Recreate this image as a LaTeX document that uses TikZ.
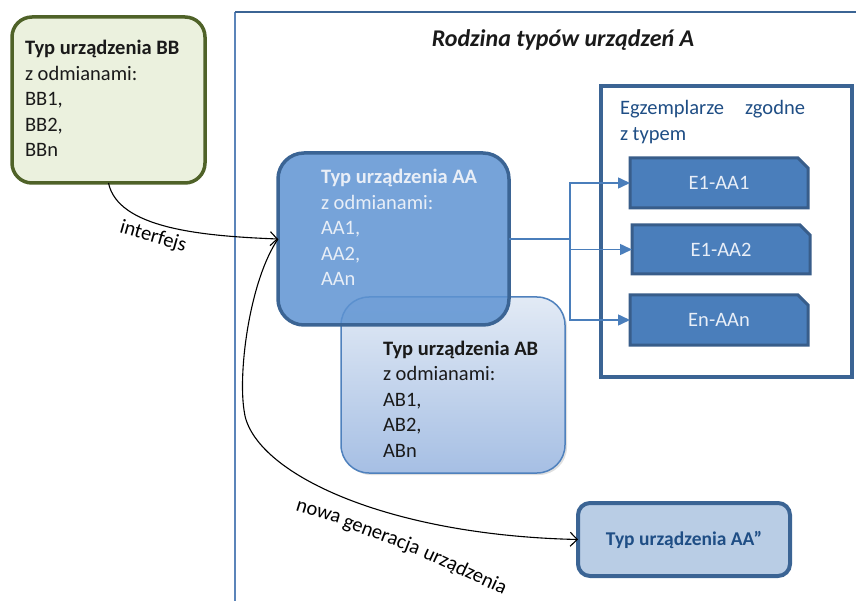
\documentclass[tikz,border=0pt]{standalone}
\usepackage{fontspec}
\setmainfont{Carlito}
\usetikzlibrary{arrows.meta,shadows,shapes.misc}

\definecolor{bbfill}{HTML}{EBF1DE}
\definecolor{bbline}{HTML}{4F6228}
\definecolor{aafill}{HTML}{5E93D2}
\definecolor{aaline}{HTML}{3B6494}
\definecolor{abline}{HTML}{4F81BD}
\definecolor{abtop}{HTML}{E2EAF5}
\definecolor{abbot}{HTML}{A6BFE4}
\definecolor{efill}{HTML}{4A7EBB}
\definecolor{eline}{HTML}{385D8A}
\definecolor{etext}{HTML}{E8EEF7}
\definecolor{dtext}{HTML}{1F4E85}
\definecolor{ppfill}{HTML}{B9CDE5}
\definecolor{frameleft}{HTML}{5B84B9}
\definecolor{darktext}{HTML}{1A1A1A}

\begin{document}
\begin{tikzpicture}[x=1pt,y=-1pt,
  every node/.style={font=\fontsize{20.5}{25.5}\selectfont, inner sep=0pt, outer sep=0pt},
  txt/.style={anchor=north west, align=left},
  ebox/.style={chamfered rectangle, chamfered rectangle corners=north east,
    chamfered rectangle xsep=5pt, chamfered rectangle ysep=5pt,
    minimum width=178pt, minimum height=50pt, fill=efill, draw=eline,
    line width=3pt, text=etext},
  conn/.style={draw=efill, line width=1.5pt},
  curve/.style={draw=black, line width=1.1pt},
  openhead/.style={-{Straight Barb[length=7pt,width=14pt]}},
  wordlbl/.style={anchor=base west, text=black}
]
\useasboundingbox (0,0) rectangle (856,601);

% outer frame
\draw[frameleft, line width=1.2pt] (235,601) -- (235,12);
\draw[aaline, line width=2.5pt] (235,12) -- (856,12);

% title
\node[anchor=base, text=darktext, font=\fontsize{24}{28}\selectfont\bfseries\itshape] (title) at (563,47) {Rodzina typów urządzeń A};

% BB box
\node[rectangle, rounded corners=20pt, minimum width=193pt, minimum height=166pt,
  fill=bbfill, draw=bbline, line width=3.5pt] (bb) at (108.5,100) {};
\node[txt, text=darktext] (bbtext) at (25,38)
  {\rule{0pt}{17pt}\textbf{Typ urządzenia BB}\\z odmianami:\\BB1,\\BB2,\\BBn};

% AB box
\node[rectangle, rounded corners=28pt, minimum width=224pt, minimum height=176pt,
  top color=abtop, bottom color=abbot, draw=abline, line width=1.5pt,
  drop shadow={opacity=0.25, shadow xshift=2pt, shadow yshift=-2pt}] (ab) at (453,385) {};
\node[txt, text=darktext] (abtext) at (383,338)
  {\rule{0pt}{17pt}\textbf{Typ urządzenia AB}\\z odmianami:\\AB1,\\AB2,\\ABn};

% AA box
\node[rectangle, rounded corners=26pt, minimum width=231pt, minimum height=172pt,
  fill=aafill, fill opacity=0.85, draw=aaline, line width=3.5pt] (aa) at (393.5,239) {};
\node[txt, text=etext] (aatext) at (321,167)
  {\rule{0pt}{17pt}\textbf{Typ urządzenia AA}\\z odmianami:\\AA1,\\AA2,\\AAn};

% Egzemplarze box
\node[rectangle, minimum width=251pt, minimum height=291pt, fill=white,
  draw=aaline, line width=3.5pt] (egz) at (726.5,231.5) {};
\node[txt, text=dtext] (egztext) at (620,98)
  {\rule{0pt}{17pt}\makebox[185pt][l]{Egzemplarze\hfill zgodne}\\z typem};

\node[ebox] (e1) at (719,183) {E1-AA1};
\node[ebox, minimum height=49pt] (e2) at (721,249.5) {E1-AA2};
\node[ebox] (e3) at (719,320) {En-AAn};

% AA'' box
\node[rectangle, rounded corners=12pt, minimum width=212pt, minimum height=73pt,
  fill=ppfill, draw=aaline, line width=4pt, text=dtext,
  font=\fontsize{19.5}{24}\selectfont\bfseries] (pp) at (684,539.5) {Typ urządzenia AA”};

% connectors AA -> E
\coordinate (split) at (570,239);
\draw[conn] (aa.east) -- (split);
\draw[conn, -{Triangle[length=12pt,width=11pt]}] (split) |- (e1.west);
\draw[conn, -{Triangle[length=12pt,width=11pt]}] (split) |- (e2.west);
\draw[conn, -{Triangle[length=12pt,width=11pt]}] (split) |- (e3.west);

% interface curve
\draw[curve, openhead] (bb.south) .. controls (118,228) and (200,236) .. (aa.west);
\node[rotate=-16, text=black] (iflabel) at (153,237) {interfejs};

% new generation curve
\draw[curve, openhead] (aa.west) .. controls (250,280) and (238,370) .. (244,410)
  .. controls (250,470) and (380,535) .. (pp.west);
\node[wordlbl, rotate=-17] (ng1) at (295,510) {nowa};
\node[wordlbl, rotate=-21] (ng2) at (342,526) {generacja};
\node[wordlbl, rotate=-25] (ng3) at (422,557) {urządzenia};
\end{tikzpicture}
\end{document}
